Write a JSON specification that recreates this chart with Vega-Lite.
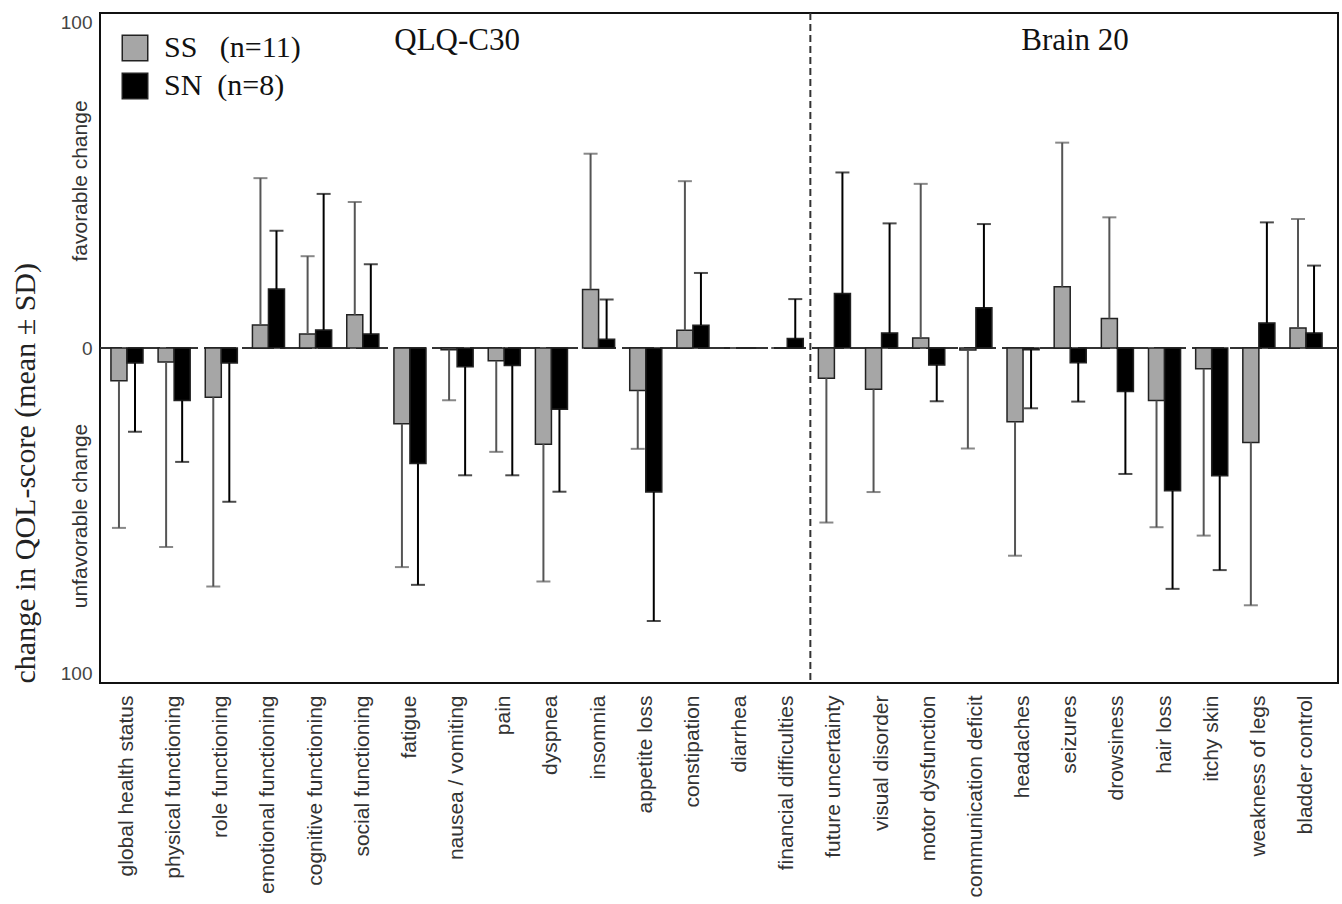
{
  "$schema": "https://vega.github.io/schema/vega-lite/v6.json",
  "width": 1238,
  "height": 670,
  "autosize": {"type": "none"},
  "padding": {"left": 100, "top": 13, "right": 4, "bottom": 221},
  "background": "white",
  "config": {"view": {"stroke": "#111", "strokeWidth": 2}, "font": "Liberation Sans"},
  "data": {"values": [
    {"cat": "global health status", "grp": "SS", "mean": -9.8, "end": -53.7},
    {"cat": "global health status", "grp": "SN", "mean": -4.5, "end": -25},
    {"cat": "physical functioning", "grp": "SS", "mean": -4.2, "end": -59.4},
    {"cat": "physical functioning", "grp": "SN", "mean": -15.7, "end": -34},
    {"cat": "role functioning", "grp": "SS", "mean": -14.7, "end": -71.2},
    {"cat": "role functioning", "grp": "SN", "mean": -4.5, "end": -45.9},
    {"cat": "emotional functioning", "grp": "SS", "mean": 6.9, "end": 50.7},
    {"cat": "emotional functioning", "grp": "SN", "mean": 17.6, "end": 35},
    {"cat": "cognitive functioning", "grp": "SS", "mean": 4.2, "end": 27.4},
    {"cat": "cognitive functioning", "grp": "SN", "mean": 5.4, "end": 46},
    {"cat": "social functioning", "grp": "SS", "mean": 9.9, "end": 43.6},
    {"cat": "social functioning", "grp": "SN", "mean": 4.2, "end": 25},
    {"cat": "fatigue", "grp": "SS", "mean": -22.6, "end": -65.4},
    {"cat": "fatigue", "grp": "SN", "mean": -34.5, "end": -70.7},
    {"cat": "nausea / vomiting", "grp": "SS", "mean": -0.5, "end": -15.6},
    {"cat": "nausea / vomiting", "grp": "SN", "mean": -5.6, "end": -38},
    {"cat": "pain", "grp": "SS", "mean": -3.8, "end": -31},
    {"cat": "pain", "grp": "SN", "mean": -5.2, "end": -38},
    {"cat": "dyspnea", "grp": "SS", "mean": -28.7, "end": -69.7},
    {"cat": "dyspnea", "grp": "SN", "mean": -18.3, "end": -42.9},
    {"cat": "insomnia", "grp": "SS", "mean": 17.5, "end": 58},
    {"cat": "insomnia", "grp": "SN", "mean": 2.6, "end": 14.5},
    {"cat": "appetite loss", "grp": "SS", "mean": -12.7, "end": -30.1},
    {"cat": "appetite loss", "grp": "SN", "mean": -43, "end": -81.5},
    {"cat": "constipation", "grp": "SS", "mean": 5.3, "end": 49.8},
    {"cat": "constipation", "grp": "SN", "mean": 6.8, "end": 22.4},
    {"cat": "diarrhea", "grp": "SS", "mean": 0, "end": null},
    {"cat": "diarrhea", "grp": "SN", "mean": 0, "end": null},
    {"cat": "financial difficulties", "grp": "SS", "mean": 0, "end": null},
    {"cat": "financial difficulties", "grp": "SN", "mean": 2.8, "end": 14.6},
    {"cat": "future uncertainty", "grp": "SS", "mean": -9, "end": -52.1},
    {"cat": "future uncertainty", "grp": "SN", "mean": 16.3, "end": 52.4},
    {"cat": "visual disorder", "grp": "SS", "mean": -12.3, "end": -43},
    {"cat": "visual disorder", "grp": "SN", "mean": 4.5, "end": 37.2},
    {"cat": "motor dysfunction", "grp": "SS", "mean": 3, "end": 49},
    {"cat": "motor dysfunction", "grp": "SN", "mean": -5.1, "end": -15.9},
    {"cat": "communication deficit", "grp": "SS", "mean": -0.6, "end": -30},
    {"cat": "communication deficit", "grp": "SN", "mean": 12, "end": 37},
    {"cat": "headaches", "grp": "SS", "mean": -22, "end": -62},
    {"cat": "headaches", "grp": "SN", "mean": -0.5, "end": -18},
    {"cat": "seizures", "grp": "SS", "mean": 18.3, "end": 61.3},
    {"cat": "seizures", "grp": "SN", "mean": -4.4, "end": -16},
    {"cat": "drowsiness", "grp": "SS", "mean": 8.8, "end": 39},
    {"cat": "drowsiness", "grp": "SN", "mean": -13, "end": -37.6},
    {"cat": "hair loss", "grp": "SS", "mean": -15.7, "end": -53.5},
    {"cat": "hair loss", "grp": "SN", "mean": -42.6, "end": -71.9},
    {"cat": "itchy skin", "grp": "SS", "mean": -6.2, "end": -56},
    {"cat": "itchy skin", "grp": "SN", "mean": -38.1, "end": -66.3},
    {"cat": "weakness of legs", "grp": "SS", "mean": -28.2, "end": -76.8},
    {"cat": "weakness of legs", "grp": "SN", "mean": 7.5, "end": 37.5},
    {"cat": "bladder control", "grp": "SS", "mean": 6, "end": 38.5},
    {"cat": "bladder control", "grp": "SN", "mean": 4.5, "end": 24.6}
  ]},
  "resolve": {"axis": {"y": "independent"}},
  "layer": [
    {
      "data": {"values": [{}]},
      "mark": {"type": "rule", "strokeDash": [32, 6], "color": "#333", "strokeWidth": 2},
      "encoding": {
        "y": {"datum": 0, "type": "quantitative",
          "scale": {"domain": [-100, 100], "nice": false},
          "axis": {"orient": "left", "values": [50, -50],
            "labelExpr": "datum.value > 0 ? 'favorable change' : 'unfavorable change'",
            "labelAngle": -90, "labelFontSize": 21, "labelColor": "#333", "labelPadding": 10,
            "labelLimit": 400, "ticks": false, "domain": false, "grid": false, "title": null}}
      }
    },
    {
      "data": {"values": [{}]},
      "mark": {"type": "rule", "strokeDash": [7, 4], "color": "#333", "strokeWidth": 2},
      "encoding": {"x": {"datum": "future uncertainty", "type": "nominal", "bandPosition": -0.25}}
    },
    {
      "mark": {"type": "bar", "stroke": "#222", "strokeWidth": 1.5},
      "encoding": {
        "x": {"field": "cat", "type": "nominal",
          "scale": {"domain": ["global health status", "physical functioning", "role functioning", "emotional functioning", "cognitive functioning", "social functioning", "fatigue", "nausea / vomiting", "pain", "dyspnea", "insomnia", "appetite loss", "constipation", "diarrhea", "financial difficulties", "future uncertainty", "visual disorder", "motor dysfunction", "communication deficit", "headaches", "seizures", "drowsiness", "hair loss", "itchy skin", "weakness of legs", "bladder control"],
            "paddingInner": 0.32, "paddingOuter": 0.285, "align": 0.407},
          "axis": {"title": null, "labelAngle": -90, "labelFontSize": 21, "labelColor": "#333", "labelPadding": 12, "labelLimit": 0, "ticks": false, "domain": false}},
        "xOffset": {"field": "grp", "type": "nominal", "scale": {"domain": ["SS", "SN"], "paddingInner": 0, "paddingOuter": 0}},
        "y": {"field": "mean", "type": "quantitative", "stack": null,
          "axis": {"orient": "left", "values": [-100, 0, 100], "labelExpr": "'' + abs(datum.value)",
            "labelFontSize": 19, "labelColor": "#444", "labelPadding": 8, "labelFlush": true, "ticks": false, "domain": false, "grid": false,
            "title": "change in QOL-score (mean ± SD)", "titleFont": "Liberation Serif", "titleFontSize": 30,
            "titleFontWeight": "normal", "titleColor": "#222", "titleAnchor": "start", "titlePadding": 20}},
        "color": {"field": "grp", "type": "nominal",
          "scale": {"domain": ["SS", "SN"], "range": ["#a6a6a6", "#000000"]},
          "legend": {"title": null, "orient": "top-left", "offset": 20, "padding": 0,
            "symbolType": "square", "symbolSize": 650, "symbolStrokeColor": "#222", "symbolStrokeWidth": 1.5,
            "labelFont": "Liberation Serif", "labelFontSize": 30, "labelColor": "#111", "labelOffset": 14,
            "labelLimit": 400, "rowPadding": 6,
            "labelExpr": "datum.value == 'SS' ? 'SS\u00a0\u00a0\u00a0(n=11)' : 'SN\u00a0\u00a0(n=8)'"}}
      }
    },
    {
      "transform": [{"filter": "isValid(datum.end)"}],
      "mark": {"type": "rule", "strokeWidth": 2},
      "encoding": {
        "x": {"field": "cat", "type": "nominal"},
        "xOffset": {"field": "grp", "type": "nominal"},
        "y": {"field": "mean", "type": "quantitative", "axis": null},
        "y2": {"field": "end"},
        "color": {"condition": {"test": "datum.grp === 'SS'", "value": "#555"}, "value": "#000"}
      }
    },
    {
      "transform": [{"filter": "isValid(datum.end)"}],
      "mark": {"type": "tick", "orient": "horizontal", "size": 14, "thickness": 2},
      "encoding": {
        "x": {"field": "cat", "type": "nominal"},
        "xOffset": {"field": "grp", "type": "nominal"},
        "y": {"field": "end", "type": "quantitative", "axis": null},
        "color": {"condition": {"test": "datum.grp === 'SS'", "value": "#555"}, "value": "#000"}
      }
    },
    {
      "data": {"values": [{}]},
      "mark": {"type": "text", "text": "QLQ-C30", "font": "Liberation Serif", "fontSize": 31, "baseline": "alphabetic", "color": "#111"},
      "encoding": {
        "x": {"datum": "nausea / vomiting", "type": "nominal"},
        "y": {"datum": 89, "type": "quantitative", "axis": null}
      }
    },
    {
      "data": {"values": [{}]},
      "mark": {"type": "text", "text": "Brain 20", "font": "Liberation Serif", "fontSize": 31, "baseline": "alphabetic", "color": "#111"},
      "encoding": {
        "x": {"datum": "seizures", "type": "nominal", "bandPosition": 0.65},
        "y": {"datum": 89, "type": "quantitative", "axis": null}
      }
    }
  ]
}
